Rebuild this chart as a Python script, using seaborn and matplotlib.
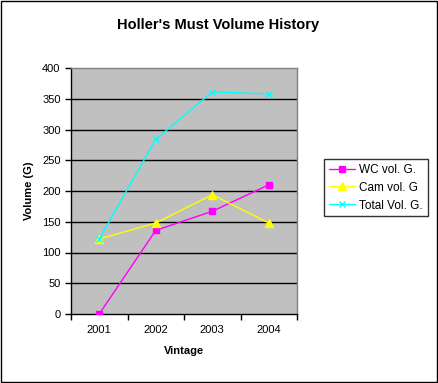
import pandas as pd
import matplotlib.pyplot as plt
import seaborn as sns
from matplotlib.patches import Rectangle

# Data
vintages = [2001, 2002, 2003, 2004]
wc_vol = [0, 136, 167, 210]
cam_vol = [122, 148, 194, 148]
total_vol = [122, 284, 361, 358]

series_names = ["WC vol. G.", "Cam vol. G", "Total Vol. G."]
y_ticks = [0, 50, 100, 150, 200, 250, 300, 350, 400]

sns.set_style("white")
plt.rcParams['font.family'] = ['Liberation Sans', 'DejaVu Sans']
plt.rcParams.update({"text.color": "black", "axes.labelcolor": "black",
                     "xtick.color": "black", "ytick.color": "black"})

fig = plt.figure(figsize=(4.38, 3.83), dpi=100)
ax = fig.add_axes([71 / 438, 1 - 314 / 383, 226 / 438, 246 / 383])
ax.set_facecolor("#C0C0C0")

# one call per series (filled and line-art markers can't be mixed in one call)
styles = [("#FF00FF", "s", 5), ("#FFFF00", "^", 6), ("#00FFFF", "x", 4.5)]
for name, vals, (col, mk, ms) in zip(series_names, [wc_vol, cam_vol, total_vol], styles):
    sns.lineplot(x=vintages, y=vals, color=col, marker=mk, markersize=ms,
                 markeredgecolor=col, markeredgewidth=1, linewidth=1,
                 label=name, ax=ax, zorder=3)

ax.set_xlim(2000.5, 2004.5)
ax.set_ylim(0, 400)
ax.set_yticks(y_ticks)
ax.set_xticks(vintages)
ax.set_xticks([2000.5, 2001.5, 2002.5, 2003.5, 2004.5], minor=True)
ax.tick_params(axis="x", which="major", length=0, labelsize=8, pad=8)
ax.tick_params(axis="x", which="minor", length=4, width=1, color="black", direction="out", bottom=True)
ax.tick_params(axis="y", length=4, width=1, color="black", direction="out", labelsize=8, left=True)
for y in y_ticks[1:-1]:
    ax.axhline(y, color="black", linewidth=1, zorder=1)

for side in ["left", "bottom"]:
    ax.spines[side].set_color("black")
    ax.spines[side].set_linewidth(1)
for side in ["top", "right"]:
    ax.spines[side].set_color("#808080")
    ax.spines[side].set_linewidth(1)

ax.set_xlabel("Vintage", fontsize=8, fontweight="bold", labelpad=8)
ax.set_ylabel("Volume (G)", fontsize=8, fontweight="bold", labelpad=6)
fig.text(218 / 438, 1 - 25 / 383, "Holler's Must Volume History", ha="center", va="center",
         fontsize=10.5, fontweight="bold")

leg = ax.legend(loc="upper left", bbox_to_anchor=(324 / 438, 1 - 159 / 383),
                bbox_transform=fig.transFigure, fontsize=8.5, frameon=True, fancybox=False,
                edgecolor="black", borderpad=0.4, handlelength=2.2, handletextpad=0.4,
                borderaxespad=0, labelspacing=0.5)
leg.get_frame().set_linewidth(1)

fig.patches.append(Rectangle((0.002, 0.002), 0.996, 0.996, transform=fig.transFigure,
                             fill=False, edgecolor="black", linewidth=1))

fig.savefig("out.png", dpi=100)
